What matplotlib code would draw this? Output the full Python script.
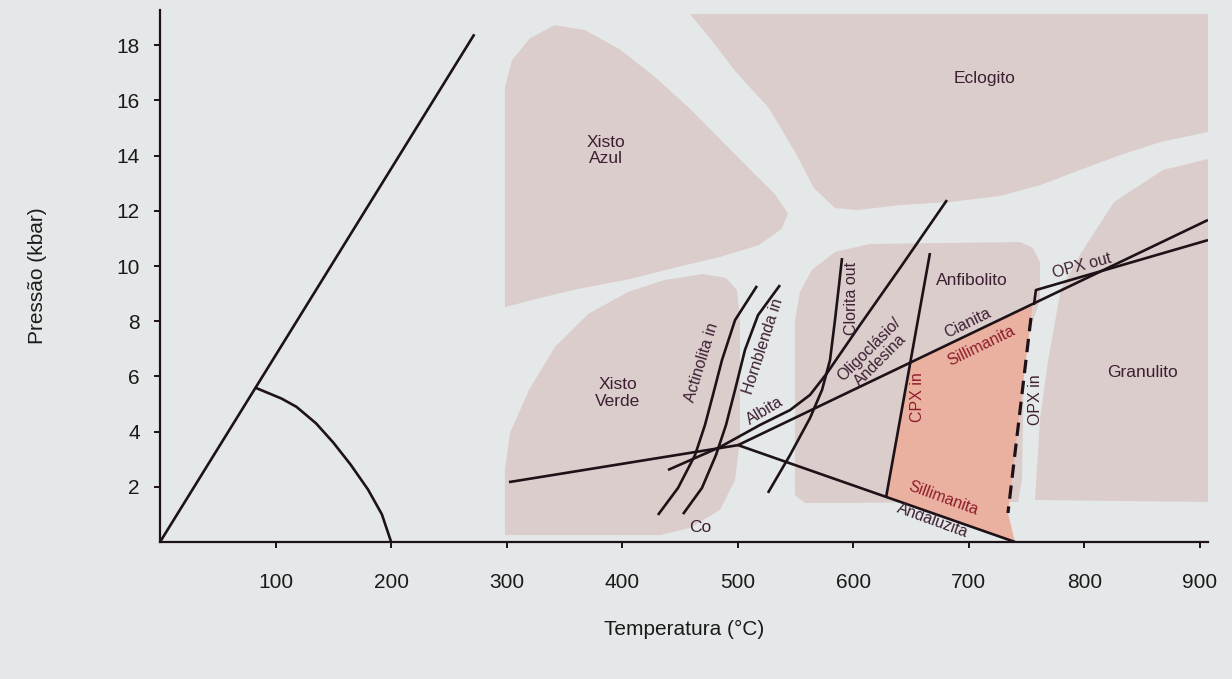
import numpy as np
import matplotlib
matplotlib.use("Agg")
import matplotlib.pyplot as plt
from matplotlib.patches import Polygon

plt.rcParams['font.family'] = ['Liberation Sans', 'DejaVu Sans']

# ---- dados (T em °C, P em kbar) ----
x_ticks = [100, 200, 300, 400, 500, 600, 700, 800, 900]
y_ticks = [2, 4, 6, 8, 10, 12, 14, 16, 18]

# campos metamórficos (contornos aproximados)
xisto_azul = [(298.5, 8.51), (298.5, 16.49), (304.6, 17.46), (320.2, 18.26), (341.8, 18.73),
              (367.8, 18.55), (398.0, 17.85), (428.4, 16.85), (458.6, 15.70), (484.6, 14.60),
              (510.6, 13.50), (532.2, 12.60), (543.4, 11.90), (538.0, 11.35), (518.3, 10.76),
              (484.6, 10.33), (447.4, 9.96), (406.7, 9.53), (361.7, 9.17), (328.8, 8.84)]
eclogito = [(458.6, 19.13), (906.9, 19.13), (906.9, 14.86), (865.3, 14.49), (830.7, 14.02),
            (796.1, 13.48), (761.5, 12.93), (726.9, 12.54), (683.6, 12.32), (640.4, 12.21),
            (604.0, 12.03), (584.1, 12.10), (565.9, 12.83), (549.5, 14.13), (527.0, 15.72),
            (498.4, 17.03), (475.9, 18.26)]
xisto_verde = [(298.5, 0.25), (298.5, 2.64), (302.9, 3.95), (319.3, 5.51), (341.8, 7.07),
               (370.4, 8.26), (405.0, 9.06), (436.1, 9.49), (469.9, 9.71), (489.8, 9.57),
               (499.3, 9.13), (501.9, 8.04), (501.9, 3.70), (497.6, 2.25), (484.6, 1.16),
               (458.6, 0.51), (432.7, 0.25)]
anfibolito = [(549.5, 1.70), (549.5, 8.04), (553.8, 9.06), (564.2, 9.86), (584.1, 10.51),
              (614.4, 10.80), (744.2, 10.87), (755.5, 10.65), (761.5, 10.14), (761.5, 8.77),
              (752.9, 7.68), (747.7, 6.59), (745.9, 2.25), (742.5, 1.45), (558.2, 1.41)]
granulito = [(757.2, 1.52), (761.5, 4.42), (768.4, 6.56), (779.7, 9.17), (797.0, 10.47),
             (825.6, 12.32), (867.9, 13.48), (906.9, 13.88), (906.9, 1.45)]

# linhas
geoterma_T = [0, 272]
geoterma_P = [0, 18.4]
curva_T = [82, 105, 118, 135, 150, 165, 180, 192, 200]
curva_P = [5.6, 5.2, 4.9, 4.3, 3.6, 2.8, 1.9, 1.0, 0]

and_ky_T = [302, 500.2]          # andaluzita / cianita
and_ky_P = [2.17, 3.51]
ky_sil_T = [500.2, 906.9]        # cianita / sillimanita
ky_sil_P = [3.51, 11.67]
sil_and_T = [500.2, 739.9]       # sillimanita / andaluzita
sil_and_P = [3.51, 0]

plag_T = [439.6, 484.6, 519.2, 545.2, 562.5, 577.2, 605.7, 640.4, 681.0]
plag_P = [2.61, 3.44, 4.24, 4.78, 5.33, 6.12, 7.86, 9.93, 12.39]
actin_T = [430.9, 448.3, 463.0, 471.6, 478.5, 486.3, 497.6, 516.6]
actin_P = [0.98, 1.96, 3.15, 4.24, 5.33, 6.59, 8.04, 9.28]
hornb_T = [452.6, 469.0, 481.1, 489.8, 497.6, 506.2, 517.5, 536.5]
hornb_P = [1.01, 1.96, 3.15, 4.24, 5.51, 6.96, 8.22, 9.31]
clor_T = [526.1, 545.2, 562.5, 572.9, 579.8, 584.1, 587.6, 590.2]
clor_P = [1.78, 3.15, 4.49, 5.51, 6.59, 8.04, 9.31, 10.29]
cpx_T = [628.4, 666.3]
cpx_P = [1.64, 10.47]
opx_in_T = [753.7, 733.8]
opx_in_P = [8.12, 1.05]
opx_out_T = [756.3, 758.0, 906.9]
opx_out_P = [8.59, 9.13, 10.94]


def intersect(ax_, ay_, bx_, by_):
    # intersecção de duas retas dadas por dois pontos cada
    p = np.array([ax_[0], ay_[0]]); r = np.array([ax_[-1] - ax_[0], ay_[-1] - ay_[0]])
    q = np.array([bx_[0], by_[0]]); s = np.array([bx_[-1] - bx_[0], by_[-1] - by_[0]])
    t = np.cross(q - p, s) / np.cross(r, s)
    return tuple(p + t * r)


bg = '#e5e8e8'
blob = '#dbcdcb'
laranja = '#ebb1a0'
preto = '#1c1217'
txt = '#3d1f33'
verm = '#8e1d2c'

fig = plt.figure(figsize=(12.32, 6.79), dpi=100, facecolor=bg)
ax = fig.add_axes([0.1299, 0.2018, 0.8506, 0.7835])
ax.set_facecolor(bg)

for poly in [xisto_azul, eclogito, xisto_verde, anfibolito, granulito]:
    ax.add_patch(Polygon(poly, closed=True, facecolor=blob, edgecolor='none', zorder=1))

# campo laranja (CPX in / Cianita-Sillimanita / OPX in / Sillimanita-Andaluzita)
c1 = intersect(cpx_T, cpx_P, sil_and_T, sil_and_P)
c2 = intersect(cpx_T, cpx_P, ky_sil_T, ky_sil_P)
c3 = intersect(opx_in_T, opx_in_P, ky_sil_T, ky_sil_P)
c4 = (opx_in_T[-1], opx_in_P[-1])
c5 = (sil_and_T[-1], sil_and_P[-1])
ax.add_patch(Polygon([c1, c2, c3, c4, c5], closed=True, facecolor=laranja,
                     edgecolor='none', zorder=2))

lw = 1.9
for xs, ys in [(geoterma_T, geoterma_P), (curva_T, curva_P), (and_ky_T, and_ky_P),
               (ky_sil_T, ky_sil_P), (sil_and_T, sil_and_P), (plag_T, plag_P),
               (actin_T, actin_P), (hornb_T, hornb_P), (clor_T, clor_P),
               (cpx_T, cpx_P), (opx_out_T, opx_out_P)]:
    ax.plot(xs, ys, color=preto, lw=lw, zorder=3, solid_capstyle='butt')
ax.plot(opx_in_T, opx_in_P, color=preto, lw=2.3, ls=(0, (4.2, 2.4)), zorder=3)

# rótulos
def rot(x, y, s, ang=0, fs=11.5, c=txt, **kw):
    ax.text(x, y, s, rotation=ang, fontsize=fs, color=c, ha='center', va='center',
            rotation_mode='anchor', zorder=4, **kw)

rot(713.9, 16.81, 'Eclogito', fs=12.5)
rot(385.9, 14.20, 'Xisto\nAzul', fs=12.5, linespacing=1.1)
rot(396.3, 5.40, 'Xisto\nVerde', fs=12.5, linespacing=1.1)
rot(702.7, 9.49, 'Anfibolito', fs=12.5)
rot(850.6, 6.16, 'Granulito', fs=12.5)
rot(467.3, 0.54, 'Co', fs=12.5)
rot(468.5, 6.52, 'Actinolita in', 73)
rot(521.5, 7.10, 'Hornblenda in', 72)
rot(523.5, 4.75, 'Albita', 31)
rot(598.0, 8.84, 'Clorita out', 90)
rot(618.7, 6.78, 'Oligoclásio/\nAndesina', 45, linespacing=1.0)
rot(699.2, 7.92, 'Cianita', 26)
rot(710.5, 7.10, 'Sillimanita', 26, c=verm)
rot(655.1, 5.25, 'CPX in', 90, c=verm)
rot(757.5, 5.14, 'OPX in', 90)
rot(797.9, 10.0, 'OPX out', 15)
rot(677.6, 1.59, 'Sillimanita', -20, c=verm)
rot(668.9, 0.78, 'Andaluzita', -20)

ax.set_xlim(0, 906.9)
ax.set_ylim(0, 19.28)
for sp in ['top', 'right']:
    ax.spines[sp].set_visible(False)
for sp in ['left', 'bottom']:
    ax.spines[sp].set_linewidth(1.6)
    ax.spines[sp].set_color(preto)
ax.set_xticks(x_ticks)
ax.set_yticks(y_ticks)
ax.tick_params(axis='both', direction='out', length=4.5, width=1.4, color=preto,
               labelsize=15, labelcolor='#1a1a1a')
ax.tick_params(axis='x', pad=18)
ax.tick_params(axis='y', pad=10)
ax.set_xlabel('Temperatura (°C)', fontsize=15, color='#1a1a1a', labelpad=20)
ax.set_ylabel('Pressão (kbar)', fontsize=15, color='#1a1a1a', labelpad=50)

fig.savefig('out.png', dpi=100, facecolor=bg)
